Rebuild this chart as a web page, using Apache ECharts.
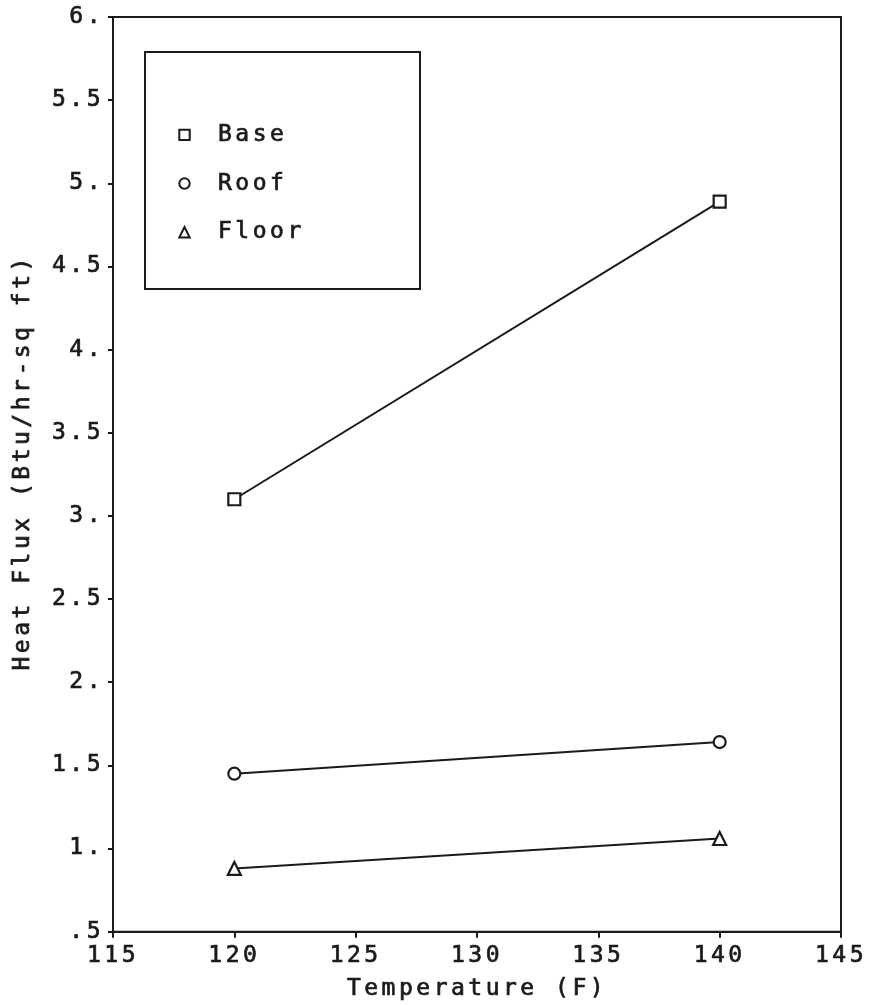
<!DOCTYPE html>
<html>
<head>
<meta charset="utf-8">
<script src="https://cdn.jsdelivr.net/npm/echarts@6/dist/echarts.min.js"></script>
<style>html,body{margin:0;padding:0;background:#fff;}#c{width:873px;height:1006px;}</style>
</head>
<body>
<div id="c"></div>
<script>
const temperatures = [120, 140];
const baseFlux = [3.10, 4.89];
const roofFlux = [1.45, 1.64];
const floorFlux = [0.88, 1.06];
const seriesNames = ["Base", "Roof", "Floor"];
const yTickLabels = [".5", "1.", "1.5", "2.", "2.5", "3.", "3.5", "4.", "4.5", "5.", "5.5", "6."];
const xTickLabels = ["115", "120", "125", "130", "135", "140", "145"];

// fixed-pitch plotter look: extra letter spacing on all canvas text
(function () {
  const proto = CanvasRenderingContext2D.prototype;
  ['fillText', 'strokeText'].forEach(function (m) {
    const orig = proto[m];
    proto[m] = function (t, x, y, w) {
      const has = 'letterSpacing' in this;
      if (has) this.letterSpacing = '3.5px';
      const r = w === undefined ? orig.call(this, t, x, y) : orig.call(this, t, x, y, w);
      if (has) this.letterSpacing = '0px';
      return r;
    };
  });
})();

const FONT = "DejaVu Sans Mono";
const INK = "#1a1a1a";
const TXT = {fontFamily: FONT, fontSize: 23, color: INK, textBorderColor: INK, textBorderWidth: 0.7};
const chart = echarts.init(document.getElementById('c'), null, {renderer: 'canvas'});

function mk(name, vals, symbol, size) {
  return {
    name: name, type: 'line',
    data: temperatures.map((t, i) => [t, vals[i]]),
    symbol: symbol, symbolSize: size, showAllSymbol: true,
    lineStyle: {color: INK, width: 2},
    itemStyle: {color: '#fff', borderColor: INK, borderWidth: 2.2},
    emphasis: {disabled: true}, z: 3
  };
}

chart.setOption({
  animation: false,
  backgroundColor: '#fff',
  grid: {left: 113, top: 17, right: 32, bottom: 73, show: true, borderColor: INK, borderWidth: 2, backgroundColor: 'transparent'},
  xAxis: {
    type: 'value', min: 115, max: 145, interval: 5,
    name: 'Temperature (F)', nameLocation: 'middle', nameGap: 46,
    nameTextStyle: Object.assign({}, TXT),
    axisLine: {show: true, lineStyle: {color: INK, width: 2}},
    axisTick: {show: true, length: 6, lineStyle: {color: INK, width: 2}},
    axisLabel: Object.assign({}, TXT, {margin: 13,
      formatter: (v) => xTickLabels[Math.round((v - 115) / 5)] || ''}),
    splitLine: {show: false}
  },
  yAxis: {
    type: 'value', min: 0.5, max: 6, interval: 0.5,
    name: 'Heat Flux (Btu/hr-sq ft)', nameLocation: 'middle', nameGap: 78, nameRotate: 90,
    nameTextStyle: Object.assign({}, TXT, {padding: [0, 0, 0, 24]}),
    axisLine: {show: true, lineStyle: {color: INK, width: 2}},
    axisTick: {show: true, length: 5, lineStyle: {color: INK, width: 2}},
    axisLabel: Object.assign({}, TXT, {margin: 9,
      formatter: (v) => yTickLabels[Math.round((v - 0.5) / 0.5)] || ''}),
    splitLine: {show: false}
  },
  legend: {
    orient: 'vertical', left: 172, top: 118,
    itemGap: 25, itemWidth: 13, itemHeight: 13,
    textStyle: Object.assign({}, TXT, {padding: [0, 0, 0, 22]}),
    data: seriesNames.map(n => ({name: n})),
    selectedMode: false,
    itemStyle: {color: '#fff', borderColor: INK, borderWidth: 2},
    lineStyle: {opacity: 0}
  },
  graphic: [{
    type: 'rect', left: 144, top: 51,
    shape: {width: 275, height: 237},
    style: {fill: 'transparent', stroke: INK, lineWidth: 2}, z: 10
  }],
  series: [
    mk(seriesNames[0], baseFlux, 'rect', 12),
    mk(seriesNames[1], roofFlux, 'circle', 12),
    mk(seriesNames[2], floorFlux, 'triangle', 13)
  ]
});
</script>
</body>
</html>
